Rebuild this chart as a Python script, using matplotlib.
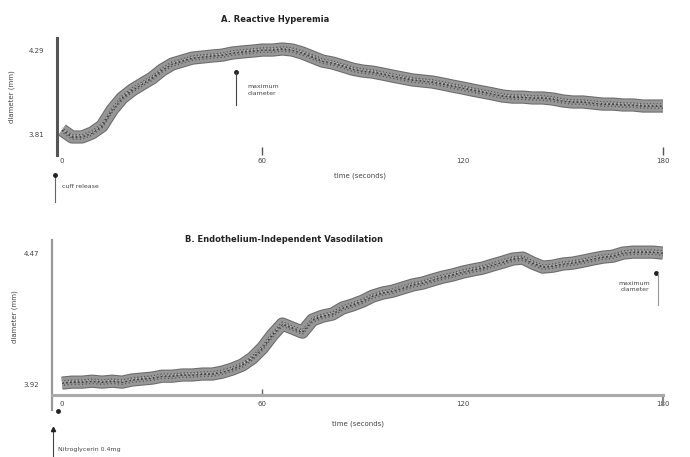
import matplotlib
matplotlib.use("Agg")
import matplotlib.pyplot as plt
import matplotlib.patheffects as pe
from matplotlib.lines import Line2D

# time axis (seconds), sampled every 3 s
time_s = list(range(0, 181, 3))

# A. reactive hyperemia: brachial diameter (mm)
hyperemia_mm = [3.833, 3.793, 3.793, 3.816, 3.856, 3.947, 4.016, 4.061, 4.096, 4.130,
                4.176, 4.210, 4.227, 4.244, 4.250, 4.256, 4.261, 4.273, 4.279, 4.284,
                4.290, 4.290, 4.296, 4.290, 4.273, 4.250, 4.227, 4.216, 4.199, 4.181,
                4.170, 4.164, 4.153, 4.141, 4.130, 4.119, 4.113, 4.107, 4.096, 4.084,
                4.073, 4.061, 4.050, 4.039, 4.027, 4.021, 4.021, 4.016, 4.016, 4.010,
                3.999, 3.993, 3.993, 3.987, 3.981, 3.981, 3.976, 3.976, 3.970, 3.970,
                3.970]

# B. endothelium-independent (nitroglycerin) vasodilation: diameter (mm)
ntg_mm = [3.924, 3.928, 3.928, 3.932, 3.928, 3.932, 3.928, 3.937, 3.941, 3.945,
          3.953, 3.953, 3.958, 3.958, 3.962, 3.962, 3.970, 3.983, 4.000, 4.029,
          4.071, 4.126, 4.172, 4.155, 4.138, 4.189, 4.205, 4.214, 4.239, 4.252,
          4.268, 4.289, 4.302, 4.310, 4.323, 4.336, 4.344, 4.357, 4.369, 4.378,
          4.390, 4.399, 4.407, 4.420, 4.432, 4.445, 4.449, 4.428, 4.411, 4.415,
          4.424, 4.428, 4.436, 4.445, 4.453, 4.457, 4.470, 4.474, 4.474, 4.474,
          4.470]

x_ticks = [0, 60, 120, 180]
x_tick_labels = ["0", "60", "120", "180"]
yticks_a = [3.81, 4.29]
yticks_b = [3.92, 4.47]

W, H = 690, 457
fig = plt.figure(figsize=(W / 100, H / 100), dpi=100)
plt.rcParams["font.family"] = ["DejaVu Sans"]


def fx(px):
    return px / W


def fy(py):
    return 1 - py / H


def band(ax, t, v):
    # thick speckled trace: grey body, soft dark rim, dotted texture inside
    ax.plot(t, v, lw=8, color="#9a9a9a", solid_capstyle="butt", solid_joinstyle="round",
            alpha=0.95,
            path_effects=[pe.Stroke(linewidth=9.5, foreground="#6a6a6a"), pe.Normal()])
    ax.plot(t, v, lw=1.3, color="#404040", ls=(0, (1.0, 1.2)))
    ax.plot(t, v, lw=1.0, color="#555555", ls=(0.6, (0.8, 1.6)),
            transform=ax.transData + matplotlib.transforms.ScaledTranslation(0, 2.2 / 100, fig.dpi_scale_trans))
    ax.plot(t, v, lw=1.0, color="#555555", ls=(1.2, (0.8, 1.8)),
            transform=ax.transData + matplotlib.transforms.ScaledTranslation(0, -2.2 / 100, fig.dpi_scale_trans))
    ax.plot(t, v, lw=0.8, color="#e0e0e0", ls=(0, (0.6, 2.6)),
            transform=ax.transData + matplotlib.transforms.ScaledTranslation(0, 1.0 / 100, fig.dpi_scale_trans))


# ---------- panel A ----------
axA = fig.add_axes([fx(57), fy(155), fx(663) - fx(57), fy(38) - fy(155)])
band(axA, time_s, hyperemia_mm)
axA.set_xlim(-1.5, 180)
axA.set_ylim(3.69, 4.359)
for s in ("top", "right", "bottom"):
    axA.spines[s].set_visible(False)
axA.spines["left"].set_color("#555555")
axA.spines["left"].set_linewidth(2.2)
axA.set_yticks(yticks_a)
axA.set_yticklabels(["3.81", "4.29"], fontsize=5, color="#444444")
axA.tick_params(axis="y", length=0, pad=9)
axA.set_xticks(x_ticks)
axA.set_xticklabels(x_tick_labels, fontsize=5, color="#444444")
axA.tick_params(axis="x", length=6, width=1, color="#555555", direction="in", pad=2)
for i in (0, 2):
    axA.xaxis.get_major_ticks()[i].tick1line.set_visible(False)
axA.set_ylabel("diameter (mm)", fontsize=5, color="#444444", labelpad=10)
axA.set_xlabel("time (seconds)", fontsize=5, color="#444444", labelpad=6)
axA.text(0.36, 1.16, "A. Reactive Hyperemia", transform=axA.transAxes,
         ha="center", va="center", fontsize=6, fontweight="bold", color="#222222")

# maximum diameter marker
axA.plot([52], [4.164], "o", ms=2.5, color="#222222", clip_on=False)
axA.plot([52, 52], [4.164, 3.976], lw=0.8, color="#444444", clip_on=False)
axA.text(55.5, 4.06, "maximum\ndiameter", fontsize=4.5, color="#444444",
         va="center", ha="left", linespacing=1.4)

# cuff release marker
fig.add_artist(Line2D([fx(55), fx(55)], [fy(175), fy(202)], lw=0.8, color="#666666"))
fig.add_artist(Line2D([fx(55)], [fy(175)], marker="o", ms=2.5, color="#222222"))
fig.text(fx(62), fy(187), "cuff release", fontsize=4.5, color="#444444", va="center")

# ---------- panel B ----------
axB = fig.add_axes([fx(52), fy(410), fx(663) - fx(52), fy(240) - fy(410)])
band(axB, time_s, ntg_mm)
axB.set_xlim(-3.0, 180)
axB.set_ylim(3.811, 4.525)
for s in ("top", "right"):
    axB.spines[s].set_visible(False)
axB.spines["left"].set_color("#999999")
axB.spines["left"].set_linewidth(1.6)
axB.spines["bottom"].set_position(("data", 3.874))
axB.spines["bottom"].set_color("#aaaaaa")
axB.spines["bottom"].set_linewidth(2.2)
axB.plot([180, 180], [3.874, 3.83], lw=1.6, color="#888888", clip_on=False)
axB.set_yticks(yticks_b)
axB.set_yticklabels(["3.92", "4.47"], fontsize=5, color="#444444")
axB.tick_params(axis="y", length=0, pad=9)
axB.set_xticks(x_ticks)
axB.set_xticklabels(x_tick_labels, fontsize=5, color="#444444")
axB.tick_params(axis="x", length=4, width=1, color="#666666", direction="in", pad=4)
for i in (0, 2, 3):
    axB.xaxis.get_major_ticks()[i].tick1line.set_visible(False)
axB.set_ylabel("diameter (mm)", fontsize=5, color="#444444", labelpad=-2)
axB.yaxis.set_label_coords(-0.055, 0.55)
axB.text(0.38, 1.0, "B. Endothelium-Independent Vasodilation", transform=axB.transAxes,
         ha="center", va="center", fontsize=6, fontweight="bold", color="#222222")
fig.text(fx(358), fy(424), "time (seconds)", fontsize=5, color="#444444",
         ha="center", va="center")

# maximum diameter marker
axB.plot([178], [4.385], "o", ms=2.5, color="#222222", clip_on=False)
axB.plot([178.5, 178.5], [4.385, 4.25], lw=0.8, color="#999999", clip_on=False)
axB.text(176, 4.33, "maximum\ndiameter", fontsize=4.5, color="#444444",
         va="center", ha="right", linespacing=1.4)

# nitroglycerin administration marker
fig.add_artist(Line2D([fx(58)], [fy(411)], marker="o", ms=2.5, color="#222222"))
fig.add_artist(Line2D([fx(53), fx(53)], [fy(457), fy(430)], lw=0.8, color="#444444"))
fig.add_artist(Line2D([fx(53)], [fy(429)], marker="^", ms=3, color="#222222"))
fig.text(fx(58), fy(449), "Nitroglycerin 0.4mg", fontsize=4.5, color="#444444", va="center")

fig.savefig("out.png", dpi=100)
